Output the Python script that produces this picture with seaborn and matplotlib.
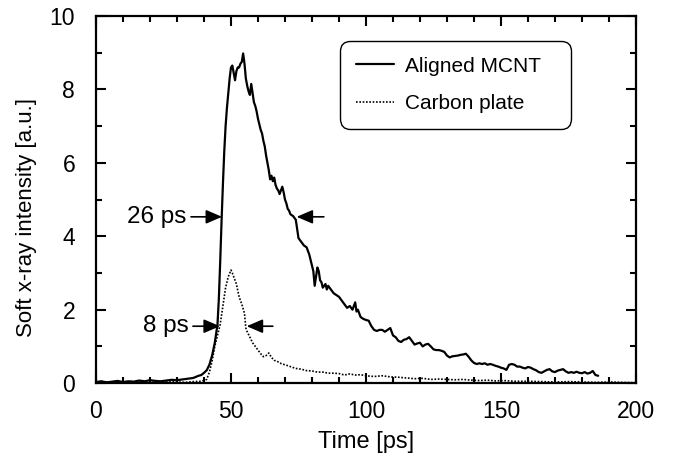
import numpy as np
import pandas as pd
import matplotlib
matplotlib.use("Agg")
import matplotlib.pyplot as plt
import seaborn as sns
from matplotlib.ticker import MultipleLocator

# ---- data ----
mcnt_t = [0, 2, 4, 6, 8, 10, 12, 14, 16, 18, 20, 22, 24, 26, 28, 30, 32, 34, 36,
          38, 39, 40, 41, 42, 43, 44, 45, 45.5, 46, 46.5, 47, 47.5, 48, 48.5, 49, 49.5,
          50, 50.5, 51, 51.5, 52, 52.5, 53, 53.5, 54, 54.5, 55, 55.5, 56, 56.5, 57, 57.5,
          58, 58.5, 59, 59.5, 60, 60.5, 61, 61.5, 62, 62.5, 63, 63.5, 64, 64.5, 65, 65.5,
          66, 66.5, 67, 67.5, 68, 68.5, 69, 69.5, 70, 70.5, 71, 71.5, 72, 73, 74, 75, 76,
          77, 78, 79, 80, 80.5, 81, 81.5, 82, 82.5, 83, 83.5, 84, 85, 85.5, 86, 87, 88, 89,
          90, 91, 92, 93, 94, 95, 96, 96.5, 97, 98, 99, 100, 101, 102, 103, 104, 105, 106,
          107, 108, 109, 110, 111, 112, 113, 114, 115, 116, 117, 118, 119, 120, 121, 122,
          123, 124, 125, 126, 127, 128, 129, 130, 131, 132, 133, 134, 135, 136, 137, 138,
          139, 140, 141, 142, 143, 144, 145, 146, 147, 148, 149, 150, 151, 152, 153, 154,
          155, 156, 157, 158, 159, 160, 161, 162, 163, 164, 165, 166, 167, 168, 169, 170,
          171, 172, 173, 174, 175, 176, 177, 178, 179, 180, 181, 182, 183, 184, 185, 186]
mcnt_v = [0.03, 0.05, 0.02, 0.04, 0.06, 0.03, 0.05, 0.04, 0.07, 0.05, 0.08, 0.06, 0.05, 0.07, 0.09, 0.08, 0.10, 0.12, 0.14,
          0.20, 0.22, 0.28, 0.35, 0.50, 0.75, 1.10, 1.60, 2.30, 3.30, 4.40, 5.40, 6.30, 7.00, 7.50, 7.90, 8.30,
          8.60, 8.65, 8.45, 8.25, 8.50, 8.60, 8.60, 8.70, 8.75, 8.98, 8.70, 8.30, 8.10, 7.95, 7.85, 8.15,
          7.90, 7.65, 7.55, 7.40, 7.20, 7.05, 6.90, 6.80, 6.60, 6.45, 6.20, 6.00, 5.80, 5.55, 5.65, 5.50,
          5.60, 5.40, 5.30, 5.25, 5.15, 5.25, 5.35, 5.20, 5.00, 4.90, 4.75, 4.70, 4.60, 4.55, 4.45, 3.95, 3.85,
          3.75, 3.70, 3.50, 3.20, 3.05, 2.65, 2.90, 3.15, 3.05, 2.80, 2.75, 2.60, 2.70, 2.55, 2.65, 2.55, 2.45, 2.40,
          2.35, 2.25, 2.15, 2.05, 2.10, 2.00, 2.20, 1.95, 2.00, 1.80, 1.75, 1.72, 1.70, 1.55, 1.45, 1.42, 1.45, 1.45,
          1.40, 1.45, 1.50, 1.30, 1.25, 1.15, 1.12, 1.18, 1.20, 1.25, 1.15, 1.05, 1.08, 1.10, 1.00, 1.05,
          1.07, 1.00, 0.92, 0.90, 0.90, 0.88, 0.85, 0.75, 0.70, 0.73, 0.74, 0.75, 0.77, 0.78, 0.80, 0.72,
          0.62, 0.55, 0.52, 0.54, 0.52, 0.54, 0.50, 0.52, 0.50, 0.47, 0.45, 0.42, 0.40, 0.36, 0.50, 0.52,
          0.50, 0.45, 0.45, 0.42, 0.40, 0.44, 0.42, 0.38, 0.35, 0.30, 0.28, 0.32, 0.36, 0.38, 0.32, 0.30,
          0.34, 0.36, 0.38, 0.32, 0.28, 0.30, 0.28, 0.31, 0.28, 0.27, 0.30, 0.26, 0.28, 0.33, 0.22, 0.20]

carbon_t = [0, 3, 6, 9, 12, 15, 18, 21, 24, 27, 30, 33, 36, 39, 41, 42, 43, 44, 45, 46, 47, 48, 49,
            50, 50.5, 51, 52, 53, 54, 55, 55.5, 56, 57, 58, 59, 60, 61, 62, 63, 64, 65, 66, 67,
            68, 69, 70, 72, 74, 76, 78, 80, 82, 84, 86, 88, 90, 92, 94, 96, 98, 100, 103, 106,
            109, 112, 115, 118, 121, 124, 127, 130, 133, 136, 139, 142, 145, 148, 151, 155, 160,
            165, 170, 175, 180, 185, 190, 195, 200]
carbon_v = [0.02, 0.03, 0.01, 0.03, 0.02, 0.04, 0.02, 0.03, 0.02, 0.04, 0.03, 0.02, 0.04, 0.05, 0.10, 0.30, 0.60, 1.00, 1.30, 1.60, 2.10, 2.60, 2.90,
            3.08, 3.00, 2.90, 2.70, 2.35, 2.15, 1.90, 1.50, 1.40, 1.25, 1.10, 1.00, 0.90, 0.80, 0.72, 0.75, 0.82, 0.70, 0.62, 0.60,
            0.55, 0.52, 0.50, 0.45, 0.40, 0.38, 0.34, 0.33, 0.30, 0.30, 0.27, 0.27, 0.26, 0.22, 0.25, 0.22, 0.23, 0.20, 0.18, 0.20,
            0.17, 0.16, 0.14, 0.12, 0.13, 0.10, 0.11, 0.10, 0.09, 0.10, 0.08, 0.07, 0.08, 0.06, 0.07, 0.05, 0.05,
            0.04, 0.03, 0.04, 0.03, 0.02, 0.03, 0.02, 0.01]

series_names = ["Aligned MCNT", "Carbon plate"]
x_ticks = [0, 50, 100, 150, 200]
y_ticks = [0, 2, 4, 6, 8, 10]

# ---- styling ----
sns.set_theme(style="ticks")
plt.rcParams['font.family'] = ['Liberation Sans', 'DejaVu Sans']
plt.rcParams['text.color'] = 'black'
plt.rcParams['axes.labelcolor'] = 'black'
plt.rcParams['xtick.color'] = 'black'
plt.rcParams['ytick.color'] = 'black'

fig = plt.figure(figsize=(6.77, 4.55), dpi=100)
ax = fig.add_axes([0.1418, 0.158, 0.9394 - 0.1418, 0.9648 - 0.158])

df_m = pd.DataFrame({"t": mcnt_t, "v": mcnt_v})
df_c = pd.DataFrame({"t": carbon_t, "v": carbon_v})
sns.lineplot(data=df_m, x="t", y="v", ax=ax, color="black", lw=1.6, label=series_names[0], sort=False)
sns.lineplot(data=df_c, x="t", y="v", ax=ax, color="black", lw=1.2, ls=(0, (1, 1)), label=series_names[1], sort=False)

ax.set_xlim(0, 200)
ax.set_ylim(0, 10)
ax.set_xticks(x_ticks)
ax.set_yticks(y_ticks)
ax.xaxis.set_minor_locator(MultipleLocator(10))
ax.yaxis.set_minor_locator(MultipleLocator(1))
ax.tick_params(which='both', direction='in', top=True, right=True, width=1.5, colors='black',
               labelsize=16.5)
ax.tick_params(axis='x', which='major', pad=12)
ax.tick_params(axis='y', which='major', pad=15)
ax.tick_params(which='major', length=7)
ax.tick_params(which='minor', length=4)
for s in ax.spines.values():
    s.set_linewidth(1.6)
    s.set_color('black')
    s.set_visible(True)
ax.set_xlabel("Time [ps]", fontsize=17)
ax.set_ylabel("Soft x-ray intensity [a.u.]", fontsize=16)
ax.xaxis.set_label_coords(0.5, -0.13)
ax.yaxis.set_label_coords(-0.109, 0.45)

leg = ax.legend(loc='upper left', bbox_to_anchor=(0.452, 0.698, 0.428, 0.234), mode='expand',
                fontsize=15, frameon=True, fancybox=True, handlelength=1.85, handletextpad=0.5,
                borderaxespad=0, labelspacing=0.89, borderpad=0.75)
frame = leg.get_frame()
frame.set_boxstyle('round,pad=0,rounding_size=0.5')
frame.set_edgecolor('black')
frame.set_linewidth(1.0)
frame.set_alpha(1)

arrow = dict(arrowstyle='-|>,head_length=0.7,head_width=0.3', color='black', lw=1.2,
             shrinkA=0, shrinkB=0, mutation_scale=14)
ax.annotate("", xy=(46.7, 4.53), xytext=(35.2, 4.53), arrowprops=arrow)
ax.annotate("", xy=(74.3, 4.53), xytext=(84.4, 4.53), arrowprops=arrow)
ax.text(33.3, 4.53, "26 ps", ha='right', va='center', fontsize=17.5)
ax.annotate("", xy=(45.9, 1.55), xytext=(35.9, 1.55), arrowprops=arrow)
ax.annotate("", xy=(55.8, 1.55), xytext=(65.5, 1.55), arrowprops=arrow)
ax.text(34.2, 1.55, "8 ps", ha='right', va='center', fontsize=17.5)

fig.savefig("out.png", dpi=100)
